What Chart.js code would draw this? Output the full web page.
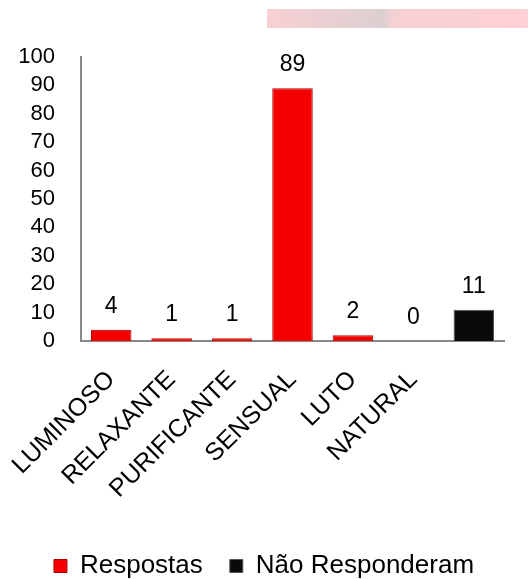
<!DOCTYPE html>
<html>
<head>
<meta charset="utf-8">
<script src="https://cdn.jsdelivr.net/npm/chart.js@4"></script>
<style>
  html, body { margin: 0; padding: 0; background: #fff; }
  #wrap { position: relative; width: 528px; height: 579px; }
  #band {
    position: absolute; left: 267px; top: 9px; width: 261px; height: 19px;
    background: linear-gradient(90deg, #f8d0d4 0%, #dccfd0 45%, #f5d0d2 48%, #ffd0d6 100%);
  }
  canvas { position: absolute; left: 0; top: 0; }
</style>
</head>
<body>
<div id="wrap">
  <div id="band"></div>
  <canvas id="chart" width="528" height="579"></canvas>
</div>
<script>
const categories = ['LUMINOSO', 'RELAXANTE', 'PURIFICANTE', 'SENSUAL', 'LUTO', 'NATURAL', ''];
const respostas = [4, 1, 1, 89, 2, 0, null];
const naoResponderam = [null, null, null, null, null, null, 11];
const yTicks = [0, 10, 20, 30, 40, 50, 60, 70, 80, 90, 100];

const fontFamily = '"Liberation Sans", Arial, sans-serif';

// value labels above each bar
const valueLabels = {
    id: 'valueLabels',
    afterDatasetsDraw(chart) {
        const ctx = chart.ctx;
        ctx.save();
        ctx.font = '23px ' + fontFamily;
        ctx.fillStyle = '#000';
        ctx.textAlign = 'center';
        ctx.textBaseline = 'alphabetic';
        chart.data.datasets.forEach((ds, i) => {
            const meta = chart.getDatasetMeta(i);
            meta.data.forEach((bar, j) => {
                const v = ds.data[j];
                if (v === null || v === undefined) return;
                ctx.fillText(String(v), bar.x, bar.y - 17);
            });
        });
        ctx.restore();
    }
};

new Chart(document.getElementById('chart'), {
    type: 'bar',
    data: {
        labels: categories,
        datasets: [
            {
                label: 'Respostas',
                data: respostas,
                backgroundColor: '#f50000',
                borderColor: '#b00000',
                borderWidth: 1,
                categoryPercentage: 0.67,
                barPercentage: 1,
                skipNull: true
            },
            {
                label: 'Não Responderam',
                data: naoResponderam,
                backgroundColor: '#0a0a0a',
                borderColor: '#555',
                borderWidth: 1,
                categoryPercentage: 0.67,
                barPercentage: 1,
                skipNull: true
            }
        ]
    },
    options: {
        responsive: false,
        animation: false,
        layout: { padding: { left: 0, right: 0, top: 57, bottom: -10 } },
        plugins: {
            legend: {
                position: 'bottom',
                labels: {
                    color: '#000',
                    font: { size: 26, family: fontFamily },
                    boxWidth: 13,
                    boxHeight: 13,
                    padding: 27
                }
            },
            tooltip: { enabled: false }
        },
        scales: {
            x: {
                grid: { display: false },
                border: { color: '#888', width: 2 },
                afterFit(scale) {
                    scale.height = 185;
                    // rotated labels would otherwise push the plot to the right
                    scale.paddingLeft = 0;
                    scale.paddingRight = 0;
                },
                ticks: {
                    color: '#000',
                    font: { size: 25, family: fontFamily },
                    minRotation: 45,
                    maxRotation: 45,
                    autoSkip: false,
                    padding: 16
                }
            },
            y: {
                min: 0,
                max: 100,
                afterBuildTicks(scale) {
                    scale.ticks = yTicks.map(v => ({ value: v }));
                },
                afterFit(scale) { scale.width = 81; },
                grid: { display: false },
                border: { color: '#888', width: 2 },
                ticks: {
                    color: '#000',
                    font: { size: 22, family: fontFamily },
                    padding: 18,
                    autoSkip: false
                }
            },
            // empty spacer on the right so the plot ends before the edge
            spacer: {
                position: 'right',
                afterFit(scale) { scale.width = 24; },
                grid: { display: false },
                border: { display: false },
                ticks: { display: false }
            }
        }
    },
    plugins: [valueLabels]
});
</script>
</body>
</html>
